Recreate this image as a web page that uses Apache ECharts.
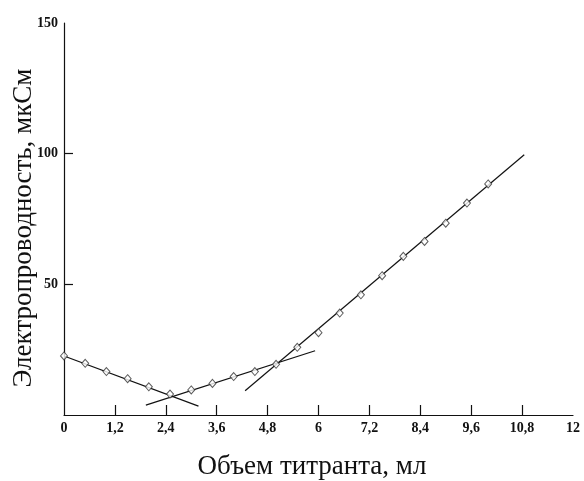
<!DOCTYPE html>
<html>
<head>
<meta charset="utf-8">
<script src="https://cdn.jsdelivr.net/npm/echarts@6/dist/echarts.min.js"></script>
<style>html,body{margin:0;padding:0;background:#fff}#c{width:584px;height:481px}</style>
</head>
<body>
<div id="c"></div>
<script>
const volume = [0, 0.5, 1.0, 1.5, 2.0, 2.5, 3.0, 3.5, 4.0, 4.5, 5.0, 5.5, 6.0, 6.5, 7.0, 7.5, 8.0, 8.5, 9.0, 9.5, 10.0];
const conductivity = [22.6, 19.8, 16.6, 13.9, 10.8, 8.0, 9.6, 12.1, 14.7, 16.6, 19.4, 25.9, 31.5, 39.0, 46.0, 53.3, 60.7, 66.4, 73.4, 81.1, 88.4];
const lineA = [[0, 22.6], [3.17, 3.4]];
const lineB = [[1.93, 3.8], [5.92, 24.6]];
const lineC = [[4.27, 9.3], [10.85, 99.6]];
const xTickValues = [1.2, 2.4, 3.6, 4.8, 6.0, 7.2, 8.4, 9.6, 10.8];
const xLabelValues = [0, 1.2, 2.4, 3.6, 4.8, 6.0, 7.2, 8.4, 9.6, 10.8, 12];
const yTickValues = [50, 100];
const yLabelValues = [50, 100, 150];
const xTitle = 'Объем титранта, мл';
const yTitle = 'Электропроводность, мкСм';

const fmt = v => String(Math.round(v * 10) / 10).replace('.', ',');
const serif = '"Liberation Serif", "DejaVu Serif", serif';
const lineStyle = { color: '#111', width: 1.2 };

const chart = echarts.init(document.getElementById('c'), null, { renderer: 'canvas' });
chart.setOption({
  backgroundColor: '#fff',
  animation: false,
  grid: { left: 64, right: 11, top: 23, bottom: 66, containLabel: false },
  xAxis: {
    type: 'value', min: 0, max: 12, interval: 1.2,
    axisLine: { lineStyle: { color: '#111', width: 1.2 } },
    axisTick: { inside: true, length: 10, customValues: xTickValues, lineStyle: { color: '#111', width: 1.2 } },
    axisLabel: { customValues: xLabelValues, formatter: fmt, margin: 6, color: '#111', fontFamily: serif, fontSize: 14, fontWeight: 'bold' },
    splitLine: { show: false }
  },
  yAxis: {
    type: 'value', min: 0, max: 150, interval: 50,
    axisLine: { show: true, lineStyle: { color: '#111', width: 1.2 } },
    axisTick: { show: true, inside: true, length: 9, customValues: yTickValues, lineStyle: { color: '#111', width: 1.2 } },
    axisLabel: { customValues: yLabelValues, formatter: fmt, margin: 6, color: '#111', fontFamily: serif, fontSize: 14, fontWeight: 'bold' },
    splitLine: { show: false }
  },
  graphic: [
    { type: 'text', x: 312, y: 467, style: { text: xTitle, fill: '#111', font: '27px ' + serif, align: 'center', verticalAlign: 'middle' } },
    { type: 'text', x: 24, y: 228, rotation: Math.PI / 2, style: { text: yTitle, fill: '#111', font: '27px ' + serif, align: 'center', verticalAlign: 'middle' } }
  ],
  series: [
    { type: 'line', data: lineA, showSymbol: false, lineStyle, silent: true, z: 2 },
    { type: 'line', data: lineB, showSymbol: false, lineStyle, silent: true, z: 2 },
    { type: 'line', data: lineC, showSymbol: false, lineStyle, silent: true, z: 2 },
    {
      type: 'scatter', z: 3,
      data: volume.map((v, i) => [v, conductivity[i]]),
      symbol: 'diamond', symbolSize: [7, 8],
      itemStyle: { color: '#fff', borderColor: '#333', borderWidth: 1 }
    }
  ]
});
</script>
</body>
</html>
